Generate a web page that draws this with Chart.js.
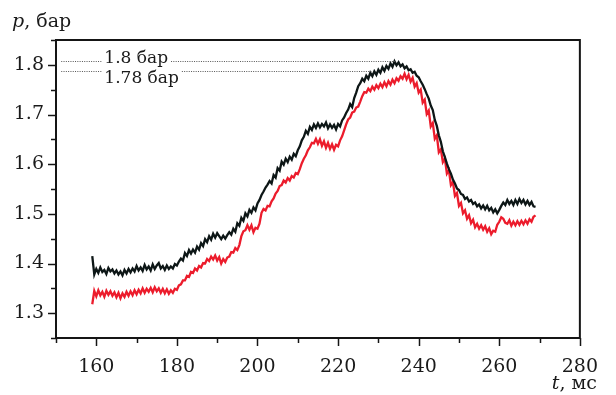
<!DOCTYPE html>
<html><head><meta charset="utf-8">
<script src="https://cdn.jsdelivr.net/npm/chart.js@4/dist/chart.umd.min.js"></script>
<style>html,body{margin:0;padding:0;background:#fff}</style>
</head><body>
<canvas id="c" width="616" height="395"></canvas>
<script>
// sampling of the recorded traces (ms)
const tStart = 159, tStep = 0.5;
// black trace, p (бар)
const pBlack = [
1.415,1.378,1.389,1.381,1.392,1.383,1.387,1.379,1.391,1.384,
1.388,1.380,1.386,1.378,1.384,1.376,1.387,1.380,1.389,1.382,
1.390,1.384,1.395,1.386,1.392,1.385,1.397,1.388,1.394,1.386,
1.398,1.389,1.396,1.401,1.390,1.395,1.387,1.396,1.389,1.394,
1.390,1.399,1.396,1.404,1.410,1.406,1.421,1.415,1.427,1.420,
1.428,1.422,1.434,1.428,1.441,1.435,1.449,1.443,1.455,1.448,
1.460,1.452,1.461,1.455,1.449,1.456,1.450,1.457,1.463,1.458,
1.470,1.464,1.481,1.476,1.492,1.486,1.501,1.495,1.508,1.502,
1.513,1.507,1.521,1.528,1.538,1.545,1.553,1.559,1.566,1.561,
1.578,1.573,1.592,1.587,1.605,1.599,1.611,1.604,1.615,1.609,
1.621,1.616,1.628,1.636,1.648,1.655,1.667,1.661,1.675,1.669,
1.680,1.673,1.682,1.674,1.681,1.676,1.684,1.672,1.680,1.673,
1.679,1.670,1.681,1.676,1.688,1.694,1.703,1.710,1.721,1.715,
1.733,1.744,1.757,1.763,1.772,1.767,1.778,1.772,1.784,1.777,
1.787,1.780,1.790,1.784,1.795,1.788,1.798,1.792,1.803,1.796,
1.807,1.799,1.805,1.797,1.801,1.793,1.797,1.789,1.791,1.784,
1.786,1.778,1.775,1.767,1.760,1.751,1.741,1.732,1.718,1.709,
1.689,1.677,1.658,1.645,1.626,1.614,1.601,1.590,1.581,1.569,
1.561,1.551,1.548,1.540,1.538,1.530,1.533,1.525,1.528,1.520,
1.523,1.515,1.519,1.511,1.517,1.509,1.516,1.507,1.512,1.503,
1.509,1.501,1.508,1.516,1.523,1.518,1.528,1.520,1.526,1.518,
1.528,1.520,1.530,1.522,1.528,1.519,1.526,1.518,1.524,1.515,
1.514];
// red trace, p (бар)
const pRed = [
1.318,1.345,1.334,1.346,1.336,1.343,1.333,1.345,1.337,1.344,
1.335,1.342,1.332,1.341,1.330,1.340,1.333,1.343,1.335,1.344,
1.336,1.346,1.338,1.347,1.340,1.350,1.341,1.349,1.343,1.351,
1.342,1.352,1.344,1.350,1.341,1.349,1.340,1.348,1.339,1.346,
1.341,1.349,1.347,1.356,1.358,1.366,1.366,1.375,1.373,1.383,
1.381,1.390,1.386,1.395,1.392,1.401,1.400,1.409,1.405,1.414,
1.408,1.416,1.406,1.413,1.400,1.409,1.403,1.412,1.414,1.423,
1.422,1.431,1.427,1.437,1.455,1.465,1.467,1.477,1.468,1.477,
1.463,1.472,1.470,1.480,1.502,1.510,1.507,1.516,1.515,1.525,
1.531,1.541,1.546,1.556,1.558,1.567,1.563,1.572,1.567,1.576,
1.573,1.582,1.580,1.590,1.602,1.611,1.618,1.628,1.634,1.643,
1.642,1.651,1.641,1.650,1.637,1.646,1.633,1.643,1.631,1.640,
1.629,1.639,1.636,1.648,1.656,1.668,1.680,1.690,1.694,1.704,
1.706,1.714,1.716,1.726,1.737,1.745,1.744,1.752,1.747,1.756,
1.750,1.759,1.753,1.762,1.755,1.765,1.757,1.767,1.760,1.770,
1.763,1.773,1.768,1.777,1.772,1.782,1.771,1.780,1.766,1.774,
1.756,1.763,1.744,1.750,1.724,1.730,1.701,1.708,1.676,1.683,
1.651,1.658,1.624,1.630,1.604,1.611,1.581,1.588,1.558,1.564,
1.536,1.542,1.516,1.522,1.501,1.507,1.490,1.497,1.481,1.488,
1.473,1.480,1.470,1.477,1.468,1.475,1.464,1.471,1.459,1.466,
1.464,1.478,1.484,1.493,1.490,1.482,1.480,1.487,1.476,1.484,
1.477,1.485,1.478,1.486,1.479,1.487,1.480,1.489,1.484,1.494,
1.497];
// axis ranges / ticks
const xRange = [150, 280];
const yRange = [1.25, 1.85];
const xMinorStep = 10, xMajorStep = 20;
const yMinorStep = 0.05, yMajorStep = 0.1;
// reference (peak) levels
const refLevels = [1.808, 1.787];
const refEnds = [234.5, 228.6];
const refStart = 151.3;
const refLabelAt = 162;
const refLabels = ['1.8 бар', '1.78 бар'];

const times = pBlack.map((_, i) => tStart + i * tStep);
const toXY = arr => arr.map((v, i) => ({x: times[i], y: v}));

const SERIF = '"DejaVu Serif", "Liberation Serif", serif';

const decor = {
  id: 'decor',
  afterDatasetsDraw(chart) {
    const {ctx, chartArea: a, scales: {x, y}} = chart;
    ctx.save();
    // frame
    ctx.strokeStyle = '#151515';
    ctx.lineWidth = 2;
    ctx.strokeRect(a.left, a.top, a.right - a.left, a.bottom - a.top);
    // ticks
    ctx.lineWidth = 1.5;
    for (let v = xRange[0]; v <= xRange[1] + 1e-9; v += xMinorStep) {
      const px = Math.round(x.getPixelForValue(v)) + 0.5;
      const major = Math.abs((v - 160) % xMajorStep) < 1e-6;
      ctx.beginPath(); ctx.moveTo(px, a.bottom); ctx.lineTo(px, a.bottom + (major ? 8 : 5)); ctx.stroke();
    }
    for (let k = 0; ; k++) {
      const v = yRange[0] + k * yMinorStep;
      if (v > yRange[1] + 1e-9) break;
      const py = Math.round(y.getPixelForValue(v)) + 0.5;
      const major = Math.abs(Math.round(v * 100) % 10) === 0;
      ctx.beginPath(); ctx.moveTo(a.left, py); ctx.lineTo(a.left - (major ? 8 : 5), py); ctx.stroke();
    }
    // reference dotted lines with labels
    ctx.font = '17px ' + SERIF;
    ctx.fillStyle = '#1a1a1a';
    ctx.strokeStyle = '#555';
    ctx.lineWidth = 1;
    ctx.setLineDash([1, 1.3]);
    refLevels.forEach((lv, i) => {
      const py = Math.round(y.getPixelForValue(lv)) + 0.5;
      const x0 = x.getPixelForValue(refStart);
      const x1 = x.getPixelForValue(refEnds[i]);
      const tx = x.getPixelForValue(refLabelAt);
      const w = ctx.measureText(refLabels[i]).width;
      ctx.beginPath();
      ctx.moveTo(x0, py); ctx.lineTo(tx - 3, py);
      ctx.moveTo(tx + w + 3, py); ctx.lineTo(x1, py);
      ctx.stroke();
      ctx.textBaseline = 'alphabetic';
      ctx.textAlign = 'left';
      ctx.fillText(refLabels[i], tx, i === 0 ? py + 1.5 : py + 11);
    });
    ctx.setLineDash([]);
    // axis titles
    ctx.fillStyle = '#1a1a1a';
    ctx.textAlign = 'left';
    ctx.textBaseline = 'alphabetic';
    ctx.font = 'italic 19px ' + SERIF;
    ctx.fillText('p', 12, 27);
    const pw = ctx.measureText('p').width;
    ctx.font = '19px ' + SERIF;
    ctx.fillText(', бар', 12 + pw, 27);
    ctx.textAlign = 'right';
    ctx.fillText(', мс', 597, 389);
    const mw = ctx.measureText(', мс').width;
    ctx.font = 'italic 19px ' + SERIF;
    ctx.fillText('t', 597 - mw, 389);
    ctx.restore();
  }
};

new Chart(document.getElementById('c'), {
  type: 'line',
  data: {
    datasets: [
      {data: toXY(pBlack), borderColor: '#0d1616', borderWidth: 2.3, pointRadius: 0, tension: 0, fill: false},
      {data: toXY(pRed), borderColor: '#ec1c2c', borderWidth: 2.3, pointRadius: 0, tension: 0, fill: false}
    ]
  },
  options: {
    responsive: false,
    animation: false,
    devicePixelRatio: 1,
    layout: {padding: {left: 0, right: 19, top: 40, bottom: 0}},
    plugins: {legend: {display: false}, tooltip: {enabled: false}},
    scales: {
      x: {
        type: 'linear', min: xRange[0], max: xRange[1],
        border: {display: false},
        grid: {display: true, drawOnChartArea: false, drawTicks: false},
        ticks: {
          stepSize: xMinorStep, autoSkip: false, maxRotation: 0, padding: 18,
          color: '#1a1a1a', font: {family: SERIF, size: 19},
          callback: v => (v >= 160 && Math.abs((v - 160) % xMajorStep) < 1e-6) ? String(v) : ''
        },
        afterFit: s => { s.height = 57; }
      },
      y: {
        type: 'linear', min: yRange[0], max: yRange[1],
        border: {display: false},
        grid: {display: true, drawOnChartArea: false, drawTicks: false},
        ticks: {
          stepSize: yMinorStep, autoSkip: false, padding: 12,
          color: '#1a1a1a', font: {family: SERIF, size: 19},
          callback: v => (Math.round(v * 100) % 10 === 0) ? v.toFixed(1) : ''
        },
        afterFit: s => { s.width = 56; }
      }
    }
  },
  plugins: [decor]
});
</script>
</body></html>
